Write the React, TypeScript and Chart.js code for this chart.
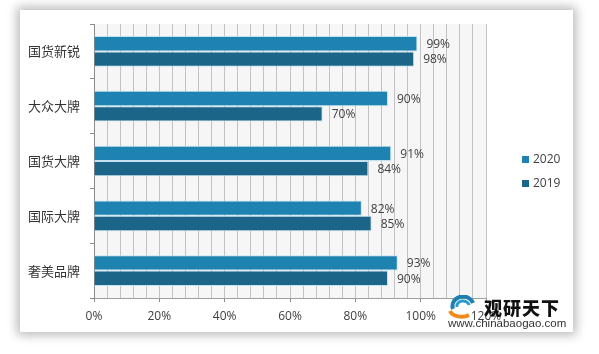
import React, { useEffect, useRef } from "react";
import { Chart, registerables } from "chart.js";

Chart.register(...registerables);

const categories = ["国货新锐", "大众大牌", "国货大牌", "国际大牌", "奢美品牌"];
const series2020 = [99, 90, 91, 82, 93];
const series2019 = [98, 70, 84, 85, 90];
const seriesNames = ["2020", "2019"];
const xTickLabels = ["0%", "20%", "40%", "60%", "80%", "100%", "120%"];

const COLOR_2020 = "#1f83b1";
const COLOR_2019 = "#1b6688";

const bgPlugin = {
  id: "plotBg",
  beforeDraw(chart: any) {
    const { ctx, chartArea } = chart;
    ctx.save();
    ctx.fillStyle = "#f6f6f6";
    ctx.fillRect(chartArea.left, chartArea.top, chartArea.right - chartArea.left, chartArea.bottom - chartArea.top);
    ctx.restore();
  },
};

const labelPlugin = {
  id: "barLabels",
  afterDatasetsDraw(chart: any) {
    const { ctx } = chart;
    ctx.save();
    ctx.font = "12px 'Open Sans', sans-serif";
    ctx.fillStyle = "#404040";
    ctx.textAlign = "left";
    ctx.textBaseline = "middle";
    chart.data.datasets.forEach((ds: any, di: number) => {
      const meta = chart.getDatasetMeta(di);
      meta.data.forEach((bar: any, i: number) => {
        ctx.fillText(ds.data[i] + "%", bar.x + 9, bar.y + 1);
      });
    });
    ctx.restore();
  },
};

export default function App() {
  const ref = useRef<HTMLCanvasElement>(null);
  useEffect(() => {
    const chart = new Chart(ref.current!, {
      type: "bar",
      data: {
        labels: categories,
        datasets: [
          {
            label: seriesNames[0],
            data: series2020,
            backgroundColor: COLOR_2020,
            borderColor: "rgba(190,225,240,0.9)",
            borderWidth: 1,
            categoryPercentage: 0.56,
            barPercentage: 1,
          },
          {
            label: seriesNames[1],
            data: series2019,
            backgroundColor: COLOR_2019,
            borderColor: "rgba(190,225,240,0.9)",
            borderWidth: 1,
            categoryPercentage: 0.56,
            barPercentage: 1,
          },
        ],
      },
      options: {
        indexAxis: "y",
        animation: false,
        responsive: false,
        maintainAspectRatio: false,
        layout: { padding: { left: 0, right: 113, top: 24, bottom: 0 } },
        plugins: { legend: { display: false }, tooltip: { enabled: false } },
        scales: {
          x: {
            min: 0,
            max: 120,
            afterFit: (s: any) => { s.height = 56; },
            ticks: {
              stepSize: 4,
              autoSkip: false,
              maxRotation: 0,
              padding: 7,
              color: "#404040",
              font: { size: 12, family: "'Open Sans', sans-serif" },
              callback: (v: any) => {
                const n = Number(v);
                return n % 20 === 0 ? xTickLabels[n / 20] : "";
              },
            },
            grid: {
              color: "#c2c2c2",
              lineWidth: 1,
              tickLength: 4,
              drawTicks: true,
              tickColor: (c: any) => (c.tick && Number(c.tick.value) % 20 === 0 ? "#8c8c8c" : "rgba(0,0,0,0)"),
            },
            border: { color: "#a0a0a0", width: 1 },
          },
          y: {
            afterFit: (s: any) => { s.width = 94; },
            ticks: {
              padding: 10,
              color: "#333333",
              font: { size: 13, family: "'Noto Sans CJK SC', sans-serif" },
            },
            grid: { drawOnChartArea: false, tickLength: 4, color: "#8c8c8c" },
            border: { color: "#8c8c8c", width: 1 },
          },
        },
      },
      plugins: [bgPlugin, labelPlugin],
    });
    return () => chart.destroy();
  }, []);

  return (
    <div style={{ position: "fixed", left: 0, top: 0, width: 599, height: 354, background: "#fff", overflow: "hidden" }}>
      <div
        style={{
          position: "absolute",
          left: 20,
          top: 10,
          width: 553,
          height: 322,
          background: "#fff",
          boxShadow: "0 0 10px 3px rgba(0,0,0,0.28)",
        }}
      />
      <canvas ref={ref} width={599} height={354} style={{ position: "absolute", left: 0, top: 0, width: 599, height: 354 }} />
      <div style={{ position: "absolute", left: 522, top: 151, fontFamily: "'Open Sans', sans-serif", fontSize: 12, color: "#404040", lineHeight: "16px" }}>
        {seriesNames.map((n, i) => (
          <div key={n} style={{ display: "flex", alignItems: "center", height: 16, marginBottom: 8 }}>
            <span style={{ display: "inline-block", width: 7, height: 7, background: i === 0 ? COLOR_2020 : COLOR_2019, marginRight: 4 }} />
            <span>{n}</span>
          </div>
        ))}
      </div>
      <svg style={{ position: "absolute", left: 447, top: 295 }} width={32} height={24} viewBox="0 0 32 24">
        <path d="M6 14 A10 9 0 0 1 26 8" stroke="#1f7fb0" strokeWidth={4} fill="none" />
        <path d="M10 12 A6 5 0 0 1 22 10" stroke="#2a9bd0" strokeWidth={3} fill="none" />
        <path d="M3 16 A12 8 0 0 0 22 20" stroke="#f08a1c" strokeWidth={4} fill="none" />
      </svg>
      <div style={{ position: "absolute", left: 484, top: 296, fontFamily: "'Noto Sans CJK SC', sans-serif", fontWeight: 900, fontSize: 18, lineHeight: "22px", color: "#111", letterSpacing: 1 }}>
        观研天下
      </div>
      <div style={{ position: "absolute", left: 448, top: 316, fontFamily: "'Liberation Sans', Arial, sans-serif", fontSize: 11.5, lineHeight: "14px", color: "#333" }}>
        www.chinabaogao.com
      </div>
    </div>
  );
}
